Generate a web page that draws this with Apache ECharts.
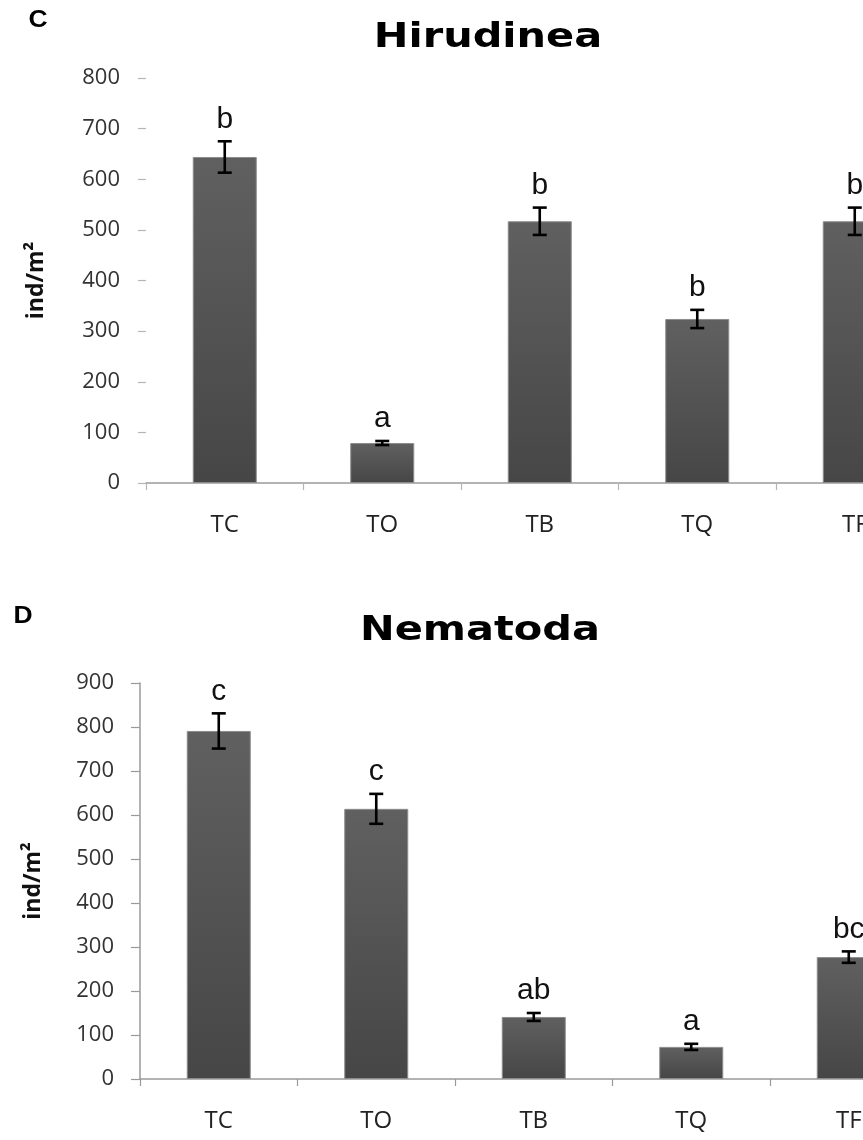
<!DOCTYPE html>
<html>
<head>
<meta charset="utf-8">
<script src="https://cdn.jsdelivr.net/npm/echarts@6/dist/echarts.min.js"></script>
<style>
html,body{margin:0;padding:0;background:#fff;}
#chart{width:863px;height:1140px;}
</style>
</head>
<body>
<div id="chart"></div>
<script>
// ---- data ----
const categories = ['TC', 'TO', 'TB', 'TQ', 'TF'];
const hirudineaMean = [644, 79, 517, 324, 517];
const hirudineaErr = [31, 4, 27, 18, 27];
const hirudineaLetters = ['b', 'a', 'b', 'b', 'b'];
const nematodaMean = [791, 614, 141, 73, 277];
const nematodaErr = [40, 34, 9, 7, 13];
const nematodaLetters = ['c', 'c', 'ab', 'a', 'bc'];
const hirudineaAxisMax = 800;
const nematodaAxisMax = 900;
const axisStep = 100;
const yAxisName = 'ind/m²';
const titles = ['Hirudinea', 'Nematoda'];
const panelLabels = ['C', 'D'];

const chart = echarts.init(document.getElementById('chart'), null, {renderer: 'canvas'});

const barColor = new echarts.graphic.LinearGradient(0, 0, 0, 1, [
  {offset: 0, color: '#606060'},
  {offset: 1, color: '#464646'}
]);

function errRenderer(letters) {
  return function (params, api) {
    const i = api.value(0), m = api.value(1), e = api.value(2);
    const pTop = api.coord([i, m + e]);
    const pBot = api.coord([i, m - e]);
    const cap = 7;
    const ls = {stroke: '#000', lineWidth: 2.6};
    return {
      type: 'group',
      children: [
        {type: 'line', shape: {x1: pTop[0], y1: pTop[1], x2: pBot[0], y2: pBot[1]}, style: ls},
        {type: 'line', shape: {x1: pTop[0] - cap, y1: pTop[1], x2: pTop[0] + cap, y2: pTop[1]}, style: ls},
        {type: 'line', shape: {x1: pBot[0] - cap, y1: pBot[1], x2: pBot[0] + cap, y2: pBot[1]}, style: ls},
        {type: 'text', style: {
          text: letters[params.dataIndex], x: pTop[0], y: pTop[1] - 7,
          align: 'center', verticalAlign: 'bottom',
          textAlign: 'center', textVerticalAlign: 'bottom',
          font: '30px "Liberation Sans", Arial, sans-serif', fill: '#111'
        }}
      ]
    };
  };
}

function xAxisCfg(gi, showTickColor) {
  return {
    type: 'category', gridIndex: gi, data: categories,
    axisLine: {show: true, lineStyle: {color: '#9a9a9a', width: 1.5}},
    axisTick: {show: true, length: 7, lineStyle: {color: showTickColor, width: 1.2}},
    axisLabel: {margin: 30, fontSize: 24, fontFamily: '"Open Sans", sans-serif', color: '#222'}
  };
}

function yAxisCfg(gi, max, showLine, nameGap) {
  return {
    type: 'value', gridIndex: gi, min: 0, max: max, interval: axisStep,
    name: yAxisName, nameLocation: 'middle', nameGap: nameGap, nameRotate: 90,
    nameTextStyle: {fontSize: 23, fontWeight: 'bold', fontFamily: '"Open Sans", sans-serif', color: '#111'},
    splitLine: {show: false},
    axisLine: {show: showLine, lineStyle: {color: '#9a9a9a', width: 1.5}},
    axisTick: {show: true, length: showLine ? 9 : 8, lineStyle: {color: showLine ? '#9a9a9a' : '#b5b5b5', width: 1.2}},
    axisLabel: {margin: 26, fontSize: 22, fontFamily: '"Open Sans", sans-serif', color: '#333'}
  };
}

const option = {
  animation: false,
  backgroundColor: '#fff',
  grid: [
    {left: 146, top: 78, width: 787.5, height: 405, outerBoundsMode: 'none', containLabel: false},
    {left: 140, top: 683, width: 787.5, height: 396, outerBoundsMode: 'none', containLabel: false}
  ],
  xAxis: [xAxisCfg(0, '#b5b5b5'), xAxisCfg(1, '#9a9a9a')],
  yAxis: [yAxisCfg(0, hirudineaAxisMax, false, 98), yAxisCfg(1, nematodaAxisMax, true, 95)],
  graphic: [
    {type: 'text', x: 488, y: 38, scaleX: 1.22, style: {text: titles[0], font: 'bold 34px "DejaVu Sans", sans-serif', fill: '#000', align: 'center', verticalAlign: 'middle', textAlign: 'center', textVerticalAlign: 'middle'}},
    {type: 'text', x: 480, y: 631, scaleX: 1.22, style: {text: titles[1], font: 'bold 34px "DejaVu Sans", sans-serif', fill: '#000', align: 'center', verticalAlign: 'middle', textAlign: 'center', textVerticalAlign: 'middle'}},
    {type: 'text', x: 38, y: 21, scaleX: 1.15, style: {text: panelLabels[0], font: 'bold 23px "Liberation Sans", Arial, sans-serif', fill: '#000', align: 'center', verticalAlign: 'middle', textAlign: 'center', textVerticalAlign: 'middle'}},
    {type: 'text', x: 23, y: 617, scaleX: 1.15, style: {text: panelLabels[1], font: 'bold 23px "Liberation Sans", Arial, sans-serif', fill: '#000', align: 'center', verticalAlign: 'middle', textAlign: 'center', textVerticalAlign: 'middle'}}
  ],
  series: [
    {type: 'bar', xAxisIndex: 0, yAxisIndex: 0, data: hirudineaMean, barWidth: 64,
     itemStyle: {color: barColor, borderColor: '#8c8c8c', borderWidth: 1}},
    {type: 'custom', xAxisIndex: 0, yAxisIndex: 0, z: 5,
     data: categories.map((c, i) => [i, hirudineaMean[i], hirudineaErr[i]]),
     renderItem: errRenderer(hirudineaLetters)},
    {type: 'bar', xAxisIndex: 1, yAxisIndex: 1, data: nematodaMean, barWidth: 64,
     itemStyle: {color: barColor, borderColor: '#8c8c8c', borderWidth: 1}},
    {type: 'custom', xAxisIndex: 1, yAxisIndex: 1, z: 5,
     data: categories.map((c, i) => [i, nematodaMean[i], nematodaErr[i]]),
     renderItem: errRenderer(nematodaLetters)}
  ]
};
chart.setOption(option);
</script>
</body>
</html>
